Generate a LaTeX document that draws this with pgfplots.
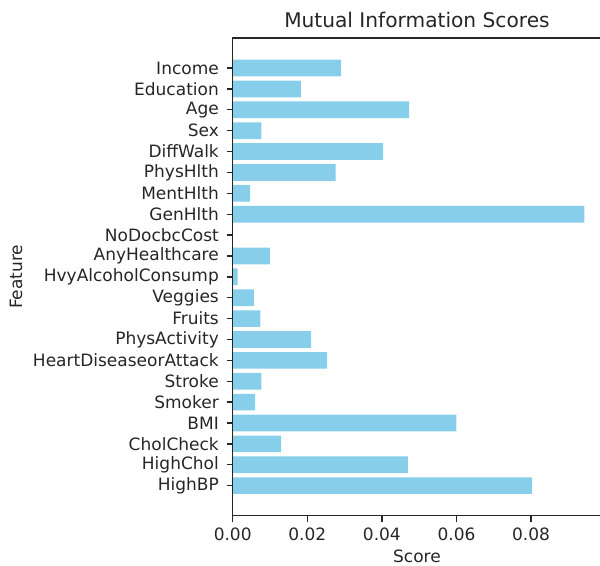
\documentclass[border=0pt]{standalone}
\usepackage{pgfplots}
\pgfplotsset{compat=1.18}
\usepackage{pgfplotstable}
\usepackage{fontspec}
\setmainfont{DejaVu Sans}
\definecolor{barblue}{HTML}{87CEEB}
\definecolor{ink}{HTML}{262626}

% mutual information score of each feature (row 0 = bottom bar)
\pgfplotstableread{
idx score
0  0.0803
1  0.0470
2  0.0130
3  0.0600
4  0.0060
5  0.0077
6  0.0253
7  0.0210
8  0.0074
9  0.0057
10 0.0013
11 0.0100
12 0.0000
13 0.0943
14 0.0047
15 0.0276
16 0.0403
17 0.0077
18 0.0473
19 0.0183
20 0.0290
}\mitable

\begin{document}
\begin{tikzpicture}
\begin{axis}[
  name=ax,
  at={(0,0)}, anchor=south west,
  scale only axis,
  width=221.1pt, height=286.62pt,
  xmin=0, xmax=0.0988,
  ymin=-1.44, ymax=21.44,
  xbar, bar width=0.8,
  axis line style={ink, line width=0.8pt},
  tick style={ink, line width=0.8pt},
  tick align=outside,
  major tick length=3.6pt,
  scaled x ticks=false,
  xtick={0,0.02,0.04,0.06,0.08},
  xticklabels={0.00,0.02,0.04,0.06,0.08},
  ytick={0,...,20},
  yticklabels={HighBP,HighChol,CholCheck,BMI,Smoker,Stroke,HeartDiseaseorAttack,PhysActivity,Fruits,Veggies,HvyAlcoholConsump,AnyHealthcare,NoDocbcCost,GenHlth,MentHlth,PhysHlth,DiffWalk,Sex,Age,Education,Income},
  xtick pos=bottom, ytick pos=left,
  tick label style={font=\fontsize{10.2}{12}\selectfont, text=ink},
  yticklabel style={xshift=-1.2pt},
  /pgf/number format/assume math mode=true,
  xlabel={Score}, ylabel={Feature},
  label style={font=\fontsize{10.2}{12}\selectfont, text=ink},
  xlabel style={at={(axis description cs:0.5,-0.0858)}, anchor=center},
  ylabel style={at={(axis description cs:-0.588,0.5)}, anchor=center},
  title={Mutual Information Scores},
  title style={at={(axis description cs:0.5,1.0167)}, anchor=center,
    font=\fontsize{12.1}{14}\selectfont, text=ink},
  axis on top,
]
\addplot[draw=none, fill=barblue] table[x=score, y=idx] {\mitable};
\end{axis}
\pgfresetboundingbox
\path ([shift={(-139.62pt,-30.18pt)}]ax.south west) rectangle ([shift={(220.38pt,309.42pt)}]ax.south west);
\end{tikzpicture}
\end{document}
